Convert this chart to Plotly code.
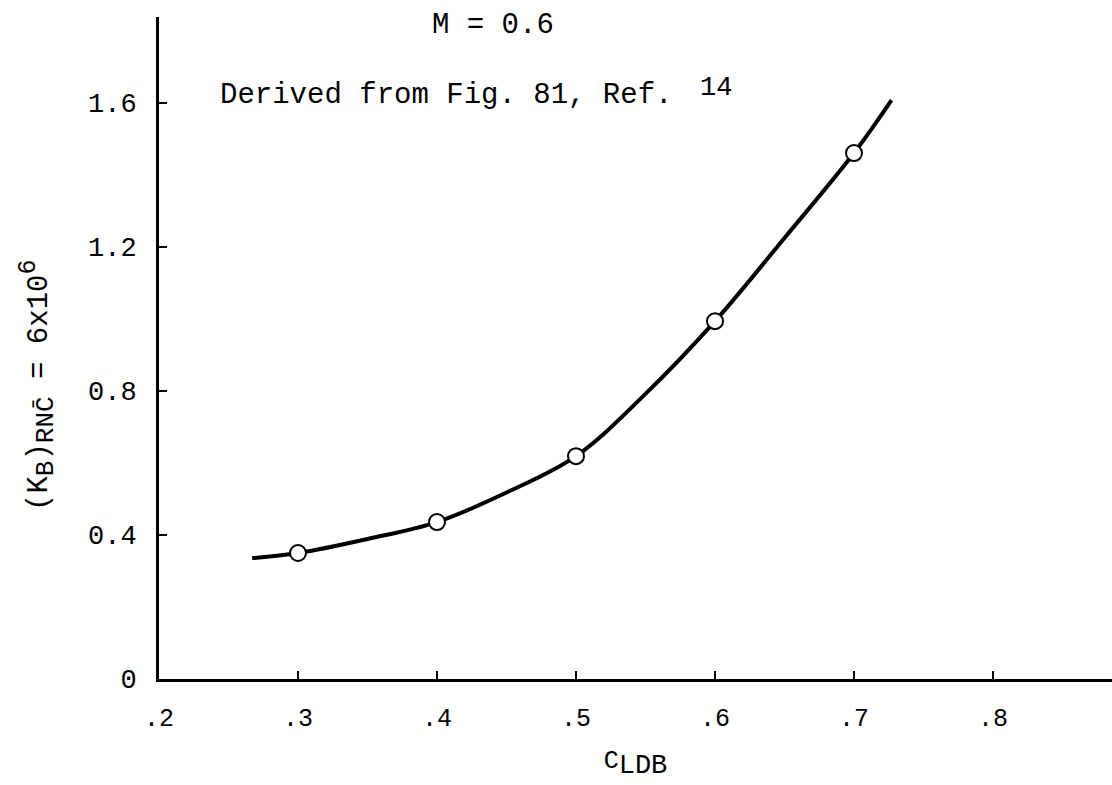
import plotly.graph_objects as go

# Measured data points (open circles)
cl_points = [0.30, 0.40, 0.50, 0.60, 0.70]
kb_points = [0.35, 0.436, 0.619, 0.994, 1.461]

# Faired curve (ends extend beyond the points)
cl_curve = [0.267, 0.30, 0.35, 0.40, 0.45, 0.50, 0.55, 0.60, 0.65, 0.70, 0.727]
kb_curve = [0.336, 0.35, 0.389, 0.436, 0.518, 0.619, 0.792, 0.994, 1.225, 1.461, 1.608]

x_tick_vals = [0.2, 0.3, 0.4, 0.5, 0.6, 0.7, 0.8]
x_tick_text = [".2", ".3", ".4", ".5", ".6", ".7", ".8"]
y_tick_vals = [0, 0.4, 0.8, 1.2, 1.6]
y_tick_text = ["0", "0.4", "0.8", "1.2", "1.6"]

MONO = "Liberation Mono, Courier New, monospace"

fig = go.Figure()
fig.add_trace(go.Scatter(
    x=cl_curve, y=kb_curve, mode="lines",
    line=dict(color="black", width=4, shape="spline", smoothing=1.0),
    showlegend=False, hoverinfo="skip"))
fig.add_trace(go.Scatter(
    x=cl_points, y=kb_points, mode="markers",
    marker=dict(symbol="circle", size=16, color="white",
                line=dict(color="black", width=2)),
    showlegend=False))

fig.update_layout(
    width=1112, height=785,
    margin=dict(l=159, r=0, t=17, b=106),
    paper_bgcolor="white", plot_bgcolor="white",
    font=dict(family=MONO, color="black", size=26),
    xaxis=dict(
        range=[0.2, 0.2 + 953 / 1390], showgrid=False, zeroline=False,
        showline=True, linecolor="black", linewidth=3,
        ticks="inside", ticklen=8, tickwidth=2, tickcolor="black",
        tickvals=x_tick_vals, ticktext=x_tick_text,
        tickfont=dict(family=MONO, size=25), ticklabelstandoff=14,
        title=dict(text="C<sub><span style='font-size:27px'>LDB</span></sub>",
                   font=dict(family=MONO, size=25), standoff=18),
    ),
    yaxis=dict(
        range=[0, 662 / 360], showgrid=False, zeroline=False,
        showline=True, linecolor="black", linewidth=3,
        ticks="inside", ticklen=8, tickwidth=2, tickcolor="black",
        tickvals=y_tick_vals, ticktext=y_tick_text,
        tickfont=dict(family=MONO, size=27), ticklabelstandoff=14,
    ),
)

fig.add_annotation(
    text=("(K<sub><span style='font-size:26px'>B</span></sub>)"
          "<sub><span style='font-size:26px'>RNC̄</span></sub>"
          " = 6x10<sup><span style='font-size:25px'>6</span></sup>"),
    xref="paper", yref="y", x=-0.128, y=(679 - 386) / 360,
    textangle=-90, showarrow=False, xanchor="center", yanchor="middle",
    font=dict(family=MONO, size=29, color="black"))

fig.add_annotation(
    text="M = 0.6", xref="x", yref="y", x=0.44, y=(679 - 25) / 360,
    showarrow=False, xanchor="center", yanchor="middle",
    font=dict(family=MONO, size=29, color="black"))

fig.add_annotation(
    text="Derived from Fig. 81, Ref.", xref="x", yref="y",
    x=0.2 + 59 / 1390, y=(679 - 95) / 360,
    showarrow=False, xanchor="left", yanchor="middle",
    font=dict(family=MONO, size=29, color="black"))

fig.add_annotation(
    text="14", xref="x", yref="y",
    x=0.2 + 539 / 1390, y=(679 - 88) / 360,
    showarrow=False, xanchor="left", yanchor="middle",
    font=dict(family=MONO, size=27, color="black"))

fig.write_html("out.html")
